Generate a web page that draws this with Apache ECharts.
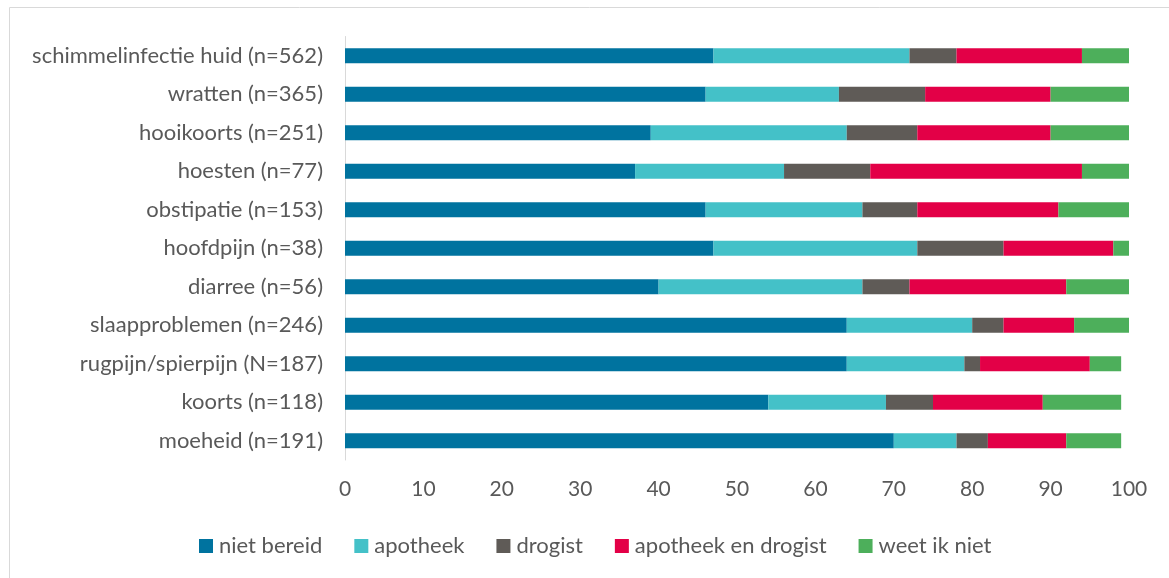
<!DOCTYPE html>
<html>
<head>
<meta charset="utf-8">
<script src="https://cdn.jsdelivr.net/npm/echarts@6/dist/echarts.min.js"></script>
<style>
  html, body { margin: 0; padding: 0; background: #fff; }
  #chart { width: 1169px; height: 578px; }
</style>
</head>
<body>
<div id="chart"></div>
<script>
// categories, bottom to top as ECharts draws a category y axis
const categories = [
  'moeheid (n=191)',
  'koorts (n=118)',
  'rugpijn/spierpijn (N=187)',
  'slaapproblemen (n=246)',
  'diarree (n=56)',
  'hoofdpijn (n=38)',
  'obstipatie (n=153)',
  'hoesten (n=77)',
  'hooikoorts (n=251)',
  'wratten (n=365)',
  'schimmelinfectie huid (n=562)'
];

const nietBereid       = [70, 54, 64, 64, 40, 47, 46, 37, 39, 46, 47];
const apotheek         = [ 8, 15, 15, 16, 26, 26, 20, 19, 25, 17, 25];
const drogist          = [ 4,  6,  2,  4,  6, 11,  7, 11,  9, 11,  6];
const apotheekDrogist  = [10, 14, 14,  9, 20, 14, 18, 27, 17, 16, 16];
const weetIkNiet       = [ 7, 10,  4,  7,  8,  2,  9,  6, 10, 10,  6];

const xTicks = [0, 10, 20, 30, 40, 50, 60, 70, 80, 90, 100];

const seriesDefs = [
  { name: 'niet bereid', data: nietBereid, color: '#00739f' },
  { name: 'apotheek', data: apotheek, color: '#44c1c8' },
  { name: 'drogist', data: drogist, color: '#5f5b57' },
  { name: 'apotheek en drogist', data: apotheekDrogist, color: '#e30047' },
  { name: 'weet ik niet', data: weetIkNiet, color: '#4daf5b' }
];

const font = 'Lato, "Open Sans", sans-serif';
const textColor = '#595959';

const chart = echarts.init(document.getElementById('chart'));

chart.setOption({
  animation: false,
  textStyle: { fontFamily: font },
  graphic: [{
    type: 'rect',
    shape: { x: 9.5, y: 7.5, width: 1200, height: 600 },
    style: { fill: 'none', stroke: '#d9d9d9', lineWidth: 1 },
    silent: true
  }],
  legend: {
    top: 530,
    left: 194,
    itemWidth: 14,
    itemHeight: 14,
    itemGap: 32,
    icon: 'rect',
    textStyle: { color: textColor, fontSize: 22, fontFamily: font, padding: [0, 0, 0, 1] },
    data: seriesDefs.map(s => s.name)
  },
  grid: {
    left: 345,
    right: 40,
    top: 36.5,
    height: 423.5,
    containLabel: false
  },
  xAxis: {
    type: 'value',
    min: 0,
    max: 100,
    interval: 10,
    axisLine: { show: false },
    axisTick: { show: false },
    splitLine: { show: false },
    axisLabel: {
      color: textColor,
      fontSize: 21,
      fontFamily: font,
      margin: 19,
      customValues: xTicks
    }
  },
  yAxis: {
    type: 'category',
    data: categories,
    axisLine: { show: true, lineStyle: { color: '#d9d9d9', width: 1 } },
    axisTick: { show: false },
    axisLabel: { color: textColor, fontSize: 22, fontFamily: font, margin: 22 }
  },
  series: seriesDefs.map(s => ({
    name: s.name,
    type: 'bar',
    stack: 'total',
    barWidth: 15,
    data: s.data,
    itemStyle: { color: s.color }
  }))
});
</script>
</body>
</html>
